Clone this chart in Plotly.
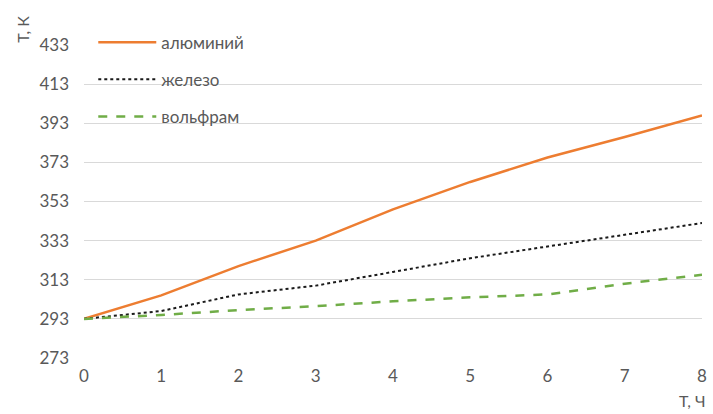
import plotly.graph_objects as go

hours = [0, 1, 2, 3, 4, 5, 6, 7, 8]
aluminium = [293, 305, 320, 333, 349, 363, 375.5, 386, 397]
iron = [293, 297, 305.5, 310, 317, 324, 330, 336, 342]
tungsten = [293, 295, 297.5, 299.5, 302, 304, 305.5, 311, 315.5]
y_ticks = [273, 293, 313, 333, 353, 373, 393, 413, 433]
x_ticks = [0, 1, 2, 3, 4, 5, 6, 7, 8]

FONT = "Lato"
GREY = "#595959"

fig = go.Figure()
fig.add_trace(go.Scatter(x=hours, y=aluminium, mode="lines", name="алюминий",
                         legendgroup="a",
                         line=dict(color="#ED7D31", width=2.5)))
fig.add_trace(go.Scatter(x=hours, y=iron, mode="lines", name="железо",
                         legendgroup="b",
                         line=dict(color="#1a1a1a", width=2, dash="dot")))
fig.add_trace(go.Scatter(x=hours, y=tungsten, mode="lines", name="вольфрам",
                         legendgroup="c",
                         line=dict(color="#70AD47", width=2.5, dash="dash")))

fig.update_layout(
    width=713, height=414,
    margin=dict(l=84, r=6, t=45, b=56),
    plot_bgcolor="white", paper_bgcolor="white",
    font=dict(family=FONT, size=17, color=GREY),
    showlegend=True,
    legend=dict(x=0.015, y=1.065, xanchor="left", yanchor="top",
                bgcolor="rgba(0,0,0,0)", tracegroupgap=12, itemwidth=58,
                font=dict(family=FONT, size=17, color=GREY)),
    xaxis=dict(range=[0, 8], tickvals=x_ticks, showgrid=False, zeroline=False,
               showline=False, ticks="", ticklabelstandoff=6,
               tickfont=dict(size=17, color=GREY)),
    yaxis=dict(range=[273, 433], tickvals=y_ticks, showgrid=True,
               gridcolor="#d9d9d9", gridwidth=1, zeroline=False,
               showline=False, ticks="", ticklabelstandoff=14,
               tickfont=dict(size=17, color=GREY)),
    annotations=[
        dict(text="Т, К", xref="paper", yref="paper", x=-0.1, y=1.0,
             xanchor="center", yanchor="bottom", textangle=-90, showarrow=False,
             font=dict(family=FONT, size=16, color=GREY)),
        dict(text="Т, Ч", xref="paper", yref="paper", x=1.009, y=-0.1,
             xanchor="right", yanchor="top", showarrow=False,
             font=dict(family=FONT, size=16, color=GREY)),
    ],
)

fig.write_html("out.html")
